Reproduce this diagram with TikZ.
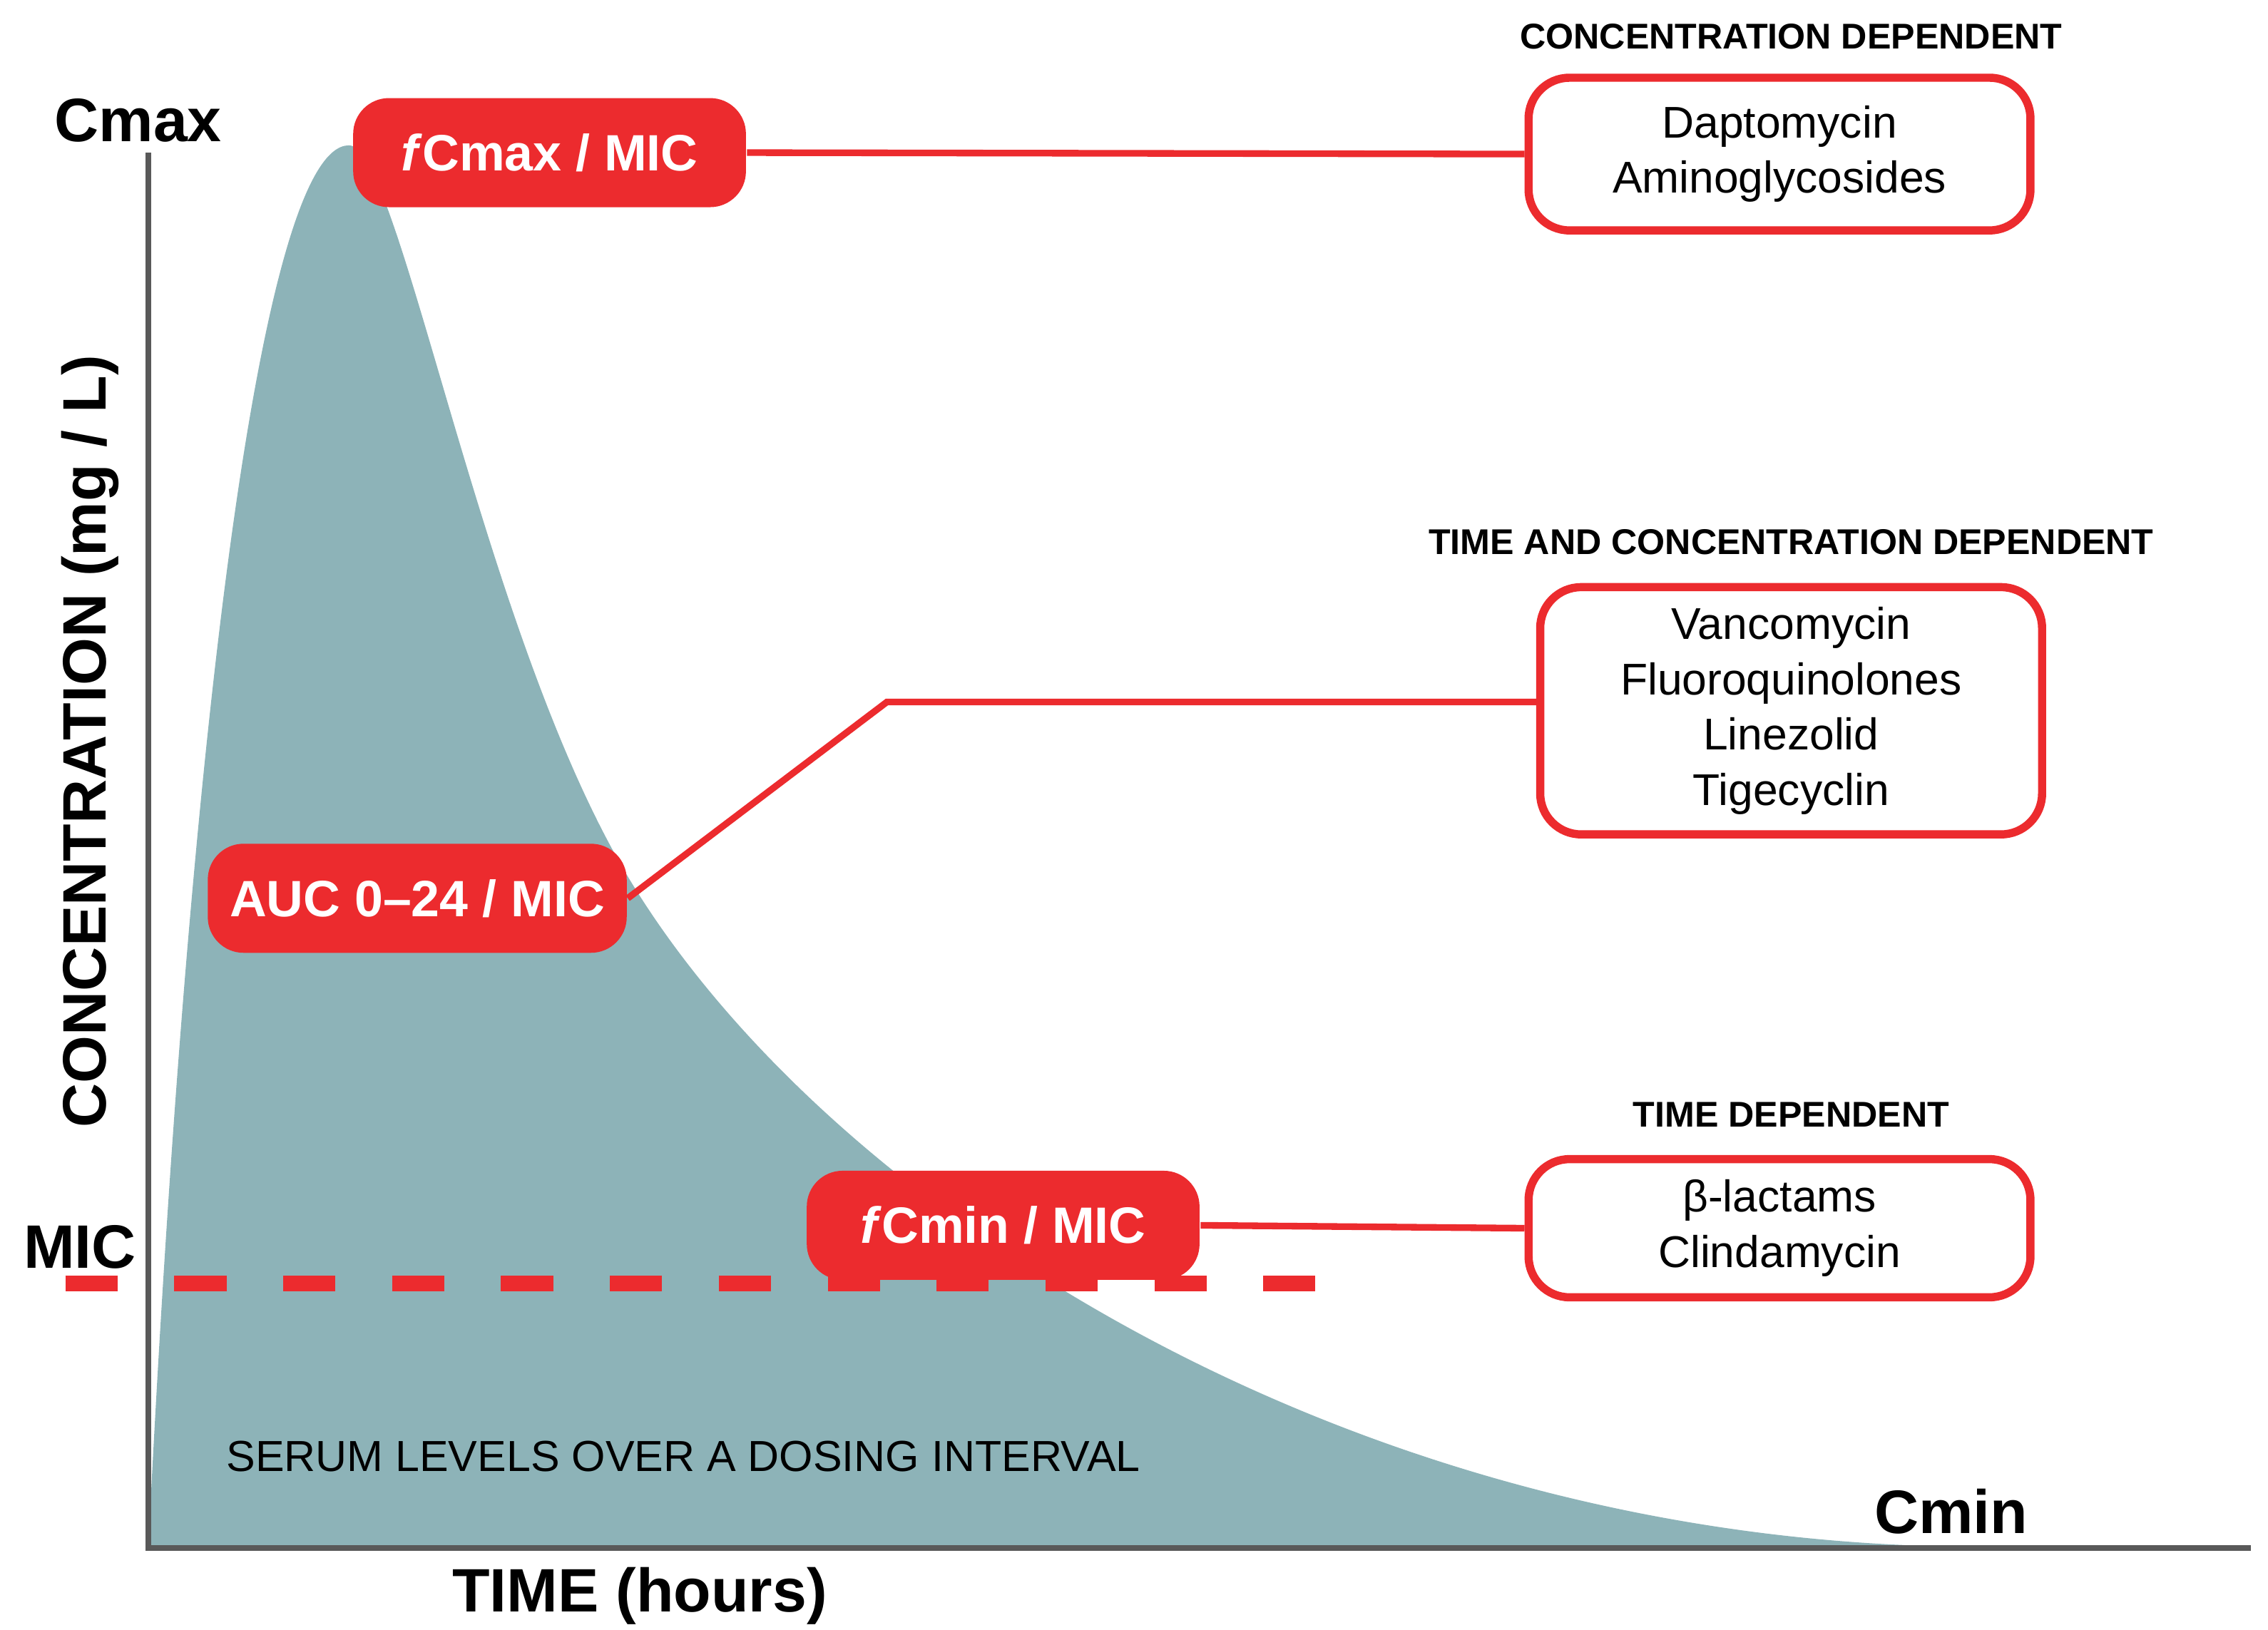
\documentclass[tikz,border=0pt]{standalone}
\usepackage{fontspec}
\setmainfont{Liberation Sans}
\begin{document}
\begin{tikzpicture}[x=0.01cm,y=-0.01cm,
  rbox/.style={fill=myred,rounded corners=7pt,text=white,font=\bfseries\fontsize{10}{12}\selectfont,minimum height=0.75cm,inner sep=0pt},
  wbox/.style={draw=myred,line width=1.6pt,rounded corners=8pt,fill=white,align=center,font=\fontsize{8.7}{10.8}\selectfont,minimum width=3.45cm,inner sep=0pt},
  head/.style={font=\bfseries\fontsize{7}{8}\selectfont},
  axlab/.style={font=\bfseries\fontsize{12}{14}\selectfont},
  link/.style={draw=myred,line width=1.3pt}]
\definecolor{myred}{HTML}{EC2B2E}
\definecolor{teal}{HTML}{8DB3B8}
\useasboundingbox (0,0) rectangle (1560,1121);
\fill[teal] (102,1065) .. controls (130,500) and (180,100) .. (240,100)
  .. controls (275,100) and (330,430) .. (430,600)
  .. controls (560,820) and (900,1045) .. (1310,1063) -- cycle;
\draw[gray!70!black,line width=1.2pt] (102,105) -- (102,1065) -- (1548,1065);
\draw[myred,line width=3.2pt,dash pattern=on 10.2pt off 11.1pt] (45,883) -- (910,883);
\node[axlab] (cmax) at (95,83) {Cmax};
\node[axlab] (mic) at (55,858) {MIC};
\node[axlab] (cmin) at (1342,1040) {Cmin};
\node[axlab] (time) at (440,1098) {TIME (hours)};
\node[axlab,rotate=90] (conc) at (62,510) {CONCENTRATION (mg / L)};
\node[font=\fontsize{8.5}{10}\selectfont] (serum) at (470,1002) {SERUM LEVELS OVER A DOSING INTERVAL};
\node[rbox,minimum width=2.7cm] (a) at (378,105) {\textit{f}Cmax / MIC};
\node[rbox,minimum width=2.88cm] (b) at (287,618) {AUC 0–24 / MIC};
\node[rbox,minimum width=2.7cm] (c) at (690,843) {\textit{f}Cmin / MIC};
\node[wbox,minimum height=1.05cm] (d) at (1224,106) {Daptomycin\\Aminoglycosides};
\node[wbox,minimum height=1.7cm] (e) at (1232,489) {Vancomycin\\Fluoroquinolones\\Linezolid\\Tigecyclin};
\node[wbox,minimum height=0.95cm] (f) at (1224,845) {β-lactams\\Clindamycin};
\node[head] (h1) at (1232,25) {CONCENTRATION DEPENDENT};
\node[head] (h2) at (1232,373) {TIME AND CONCENTRATION DEPENDENT};
\node[head] (h3) at (1232,767) {TIME DEPENDENT};
\coordinate (k) at (610,483);
\draw[link] (a.east) -- (d.west);
\draw[link] (b.east) -- (k) -- (e.west|-k);
\draw[link] (c.east) -- (f.west);
\end{tikzpicture}
\end{document}
